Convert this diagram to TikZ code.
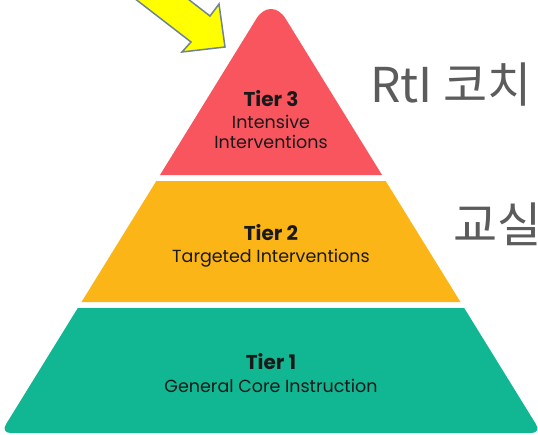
\documentclass[tikz,border=0pt]{standalone}
\usepackage{fontspec}
\setmainfont{Poppins}
\newfontfamily\korfont{Noto Sans CJK KR}
\usepackage{xcolor}
\usepackage{tikz}
\definecolor{tierred}{HTML}{F9555F}
\definecolor{tieryellow}{HTML}{FBB516}
\definecolor{tiergreen}{HTML}{11B692}
\definecolor{arrowyellow}{HTML}{FFFF00}
\definecolor{arrowedge}{HTML}{6E8494}
\definecolor{rolegray}{HTML}{5C5C5C}
\tikzstyle{tierlabel} = [
    align=center,
    inner sep=0pt,
    text=black!90,
    font=\fontsize{17.5}{20.5}\selectfont
]
\tikzstyle{rolelabel} = [
    anchor=base west,
    inner sep=0pt,
    text=rolegray,
    font=\korfont\fontsize{48}{52}\selectfont
]

\begin{document}
\begin{tikzpicture}[x=1pt, y=-1pt]
\useasboundingbox (0,0) rectangle (538,434);
\fill[tierred] (160,175) [rounded corners=28pt] -- (271,-5) [sharp corners] -- (382,175) -- cycle;
\fill[tieryellow] (156.3,181) -- (385.7,181) -- (460.5,302) -- (81.5,302) -- cycle;
\fill[tiergreen] (77.8,308) -- (464.2,308) [rounded corners=10pt] -- (541.4,433) -- (0.6,433) [sharp corners] -- cycle;
\draw[arrowedge, fill=arrowyellow, line width=1.5pt, line join=miter]
    (131,-45) -- (210,16) -- (219,4) -- (225,47) -- (182,52) -- (191,42) -- (112,-19) -- cycle;
\node[tierlabel] (tier3) at (271,120) {{\bfseries\fontsize{20}{22}\selectfont Tier 3}\\[1pt]Intensive\\Interventions};
\node[tierlabel] (tier2) at (271,246) {{\bfseries\fontsize{20}{22}\selectfont Tier 2}\\[1pt]Targeted Interventions};
\node[tierlabel] (tier1) at (271,373) {{\bfseries\fontsize{20}{22}\selectfont Tier 1}\\[2pt]General Core Instruction};
\node[rolelabel] (coach) at (370,102) {RtI 코치};
\node[rolelabel] (classroom) at (453,242) {교실};
\end{tikzpicture}
\end{document}
